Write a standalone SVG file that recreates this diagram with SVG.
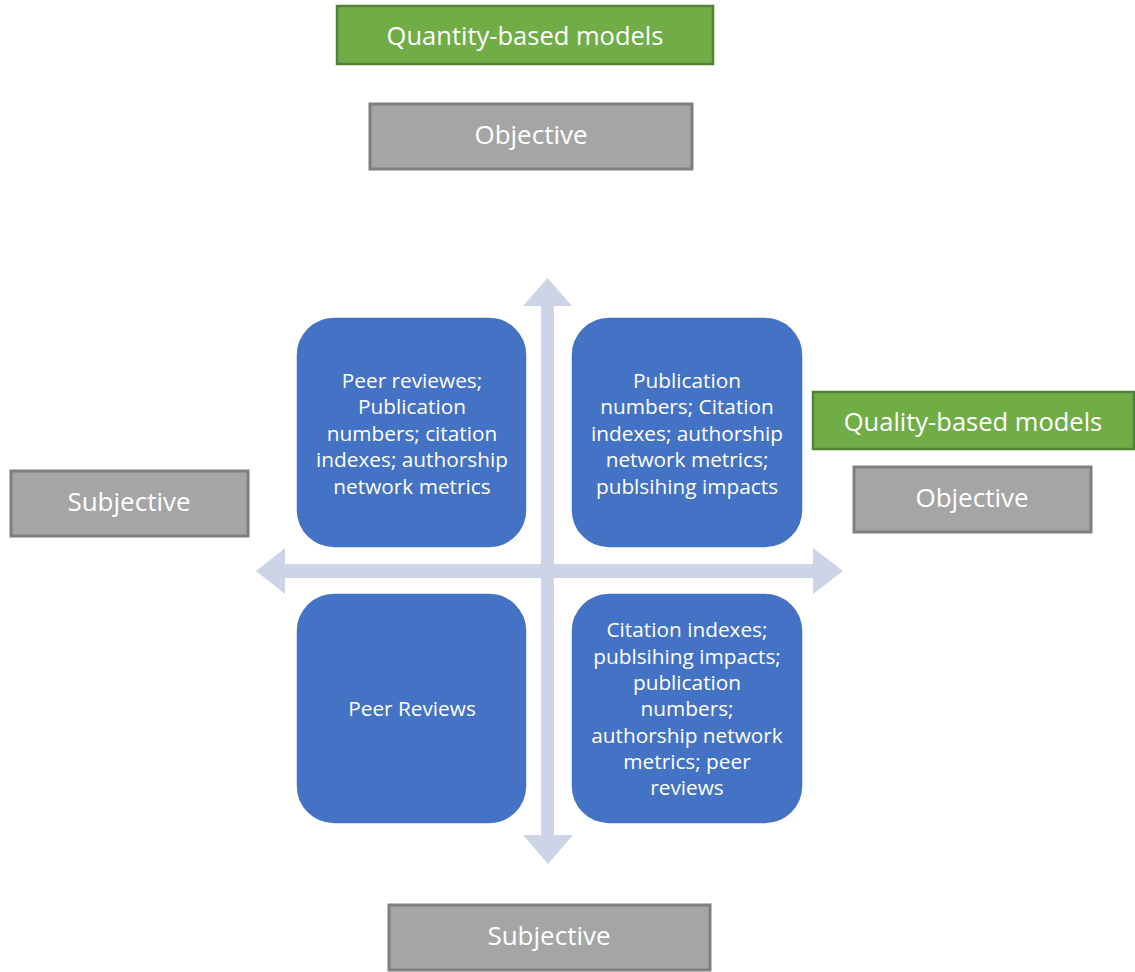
<svg xmlns="http://www.w3.org/2000/svg" width="1135" height="972" viewBox="0 0 1135 972">
<style>
.green{fill:#70AD47;stroke:#548235;stroke-width:2.5}
.gray{fill:#A5A5A5;stroke:#7F7F7F;stroke-width:3}
.blue{fill:#4472C4;stroke:#FFFFFF;stroke-width:1.5}
.axis{fill:#CED4E8}
text{font-family:"Open Sans","Noto Sans",sans-serif;fill:#FFFFFF;text-anchor:middle}
.lg{font-size:25.5px}
.lbl{font-size:26px}
.bt{font-size:20.8px}
</style>
<rect width="1135" height="972" fill="#FFFFFF"/>
<g id="connectors">
<rect class="axis" x="541" y="300" width="13" height="540"/>
<polygon class="axis" points="547.5,278 572,306 523,306"/>
<polygon class="axis" points="548,864 573,835 523,835"/>
<rect class="axis" x="280" y="564" width="538" height="14"/>
<polygon class="axis" points="256,571 285,548 285,594"/>
<polygon class="axis" points="843,571 813,548 813,594"/>
</g>
<g id="quantity">
<rect class="green" x="337" y="6" width="376" height="58"/>
<text class="lg" x="525" y="45">Quantity-based models</text>
</g>
<g id="objective-top">
<rect class="gray" x="370" y="104" width="322" height="65"/>
<text class="lbl" x="531" y="144">Objective</text>
</g>
<g id="quality">
<rect class="green" x="813" y="392" width="321" height="57"/>
<text class="lg" x="973" y="431">Quality-based models</text>
</g>
<g id="objective-right">
<rect class="gray" x="854" y="467" width="237" height="65"/>
<text class="lbl" x="972" y="507">Objective</text>
</g>
<g id="subjective-left">
<rect class="gray" x="11" y="471" width="237" height="65"/>
<text class="lbl" x="129" y="511">Subjective</text>
</g>
<g id="subjective-bottom">
<rect class="gray" x="389" y="905" width="321" height="65"/>
<text class="lbl" x="549" y="945">Subjective</text>
</g>
<g id="q-top-left">
<rect class="blue" x="296" y="317" width="231" height="231" rx="38"/>
<text class="bt" x="412"><tspan x="412" y="388">Peer reviewes;</tspan><tspan x="412" y="414">Publication</tspan><tspan x="412" y="441">numbers; citation</tspan><tspan x="412" y="467">indexes; authorship</tspan><tspan x="412" y="494">network metrics</tspan></text>
</g>
<g id="q-top-right">
<rect class="blue" x="571" y="317" width="232" height="231" rx="38"/>
<text class="bt" x="687"><tspan x="687" y="388">Publication</tspan><tspan x="687" y="414">numbers; Citation</tspan><tspan x="687" y="441">indexes; authorship</tspan><tspan x="687" y="467">network metrics;</tspan><tspan x="687" y="494">publsihing impacts</tspan></text>
</g>
<g id="q-bottom-left">
<rect class="blue" x="296" y="593" width="231" height="231" rx="38"/>
<text class="bt" x="412" y="716">Peer Reviews</text>
</g>
<g id="q-bottom-right">
<rect class="blue" x="571" y="593" width="232" height="231" rx="38"/>
<text class="bt" x="687"><tspan x="687" y="637">Citation indexes;</tspan><tspan x="687" y="664">publsihing impacts;</tspan><tspan x="687" y="690">publication</tspan><tspan x="687" y="716">numbers;</tspan><tspan x="687" y="743">authorship network</tspan><tspan x="687" y="769">metrics; peer</tspan><tspan x="687" y="795">reviews</tspan></text>
</g>
</svg>
